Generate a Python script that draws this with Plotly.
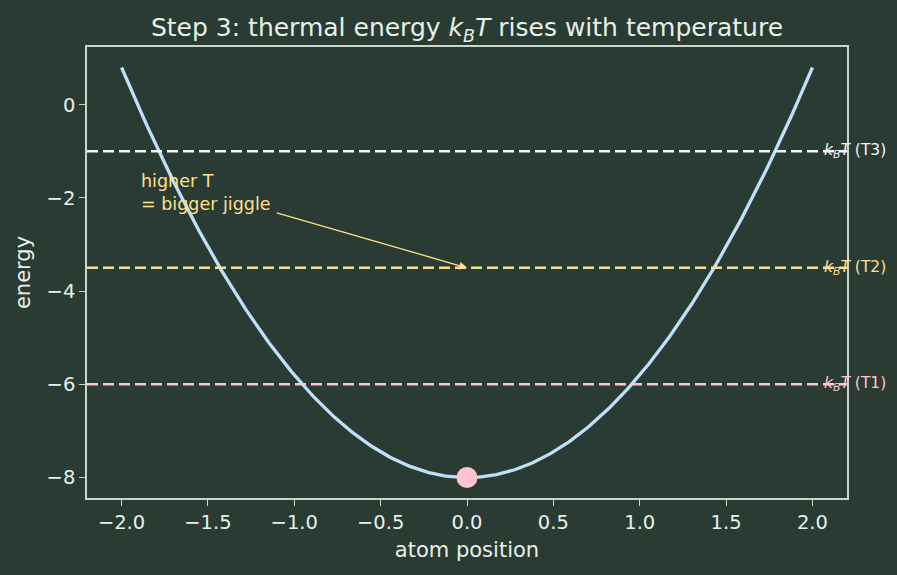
import numpy as np
import plotly.graph_objects as go

# Data
x_pos = np.linspace(-2.0, 2.0, 401)
well_a = 2.2
well_min = -8.0
energy = well_a * x_pos**2 + well_min

levels = [-6.0, -3.5, -1.0]
level_names = ["(T1)", "(T2)", "(T3)"]
level_colors = ["#ffc4d0", "#ffe08a", "#f4f4f4"]

atom_x = [0.0]
atom_y = [-8.0]

note_text = "higher T<br>= bigger jiggle"
note_xy = (-1.9, -1.89)
arrow_tail = (-1.11, -2.31)
arrow_head = (0.0, -3.5)

BG = "#2a3b34"
FG = "#e8efe8"
SPINE = "#c9d6cc"
FONT = "DejaVu Sans"

fig = go.Figure()

fig.add_trace(go.Scatter(x=x_pos, y=energy, mode="lines",
                         line=dict(color="#bfe0fb", width=3.3), showlegend=False,
                         hoverinfo="skip"))

for lv, nm, col in zip(levels, level_names, level_colors):
    fig.add_shape(type="line", xref="paper", x0=0, x1=1, yref="y", y0=lv, y1=lv,
                  line=dict(color=col, width=2.5, dash="11px,5px"), layer="above")
    fig.add_annotation(x=2.055, y=lv, xref="x", yref="y", showarrow=False,
                       xanchor="left", yanchor="middle",
                       text=f"<i>k</i><sub><i>B</i></sub><i>T</i> {nm}",
                       font=dict(family=FONT, size=15.5, color=col))

fig.add_trace(go.Scatter(x=atom_x, y=atom_y, mode="markers",
                         marker=dict(color="#ffc4d0", size=21), showlegend=False,
                         cliponaxis=False))

fig.add_annotation(x=note_xy[0], y=note_xy[1], xref="x", yref="y",
                   text=note_text, align="left", showarrow=False,
                   xanchor="left", yanchor="middle",
                   font=dict(family=FONT, size=17.5, color="#ffe08a"))
fig.add_annotation(x=arrow_head[0], y=arrow_head[1], xref="x", yref="y",
                   ax=arrow_tail[0], ay=arrow_tail[1], axref="x", ayref="y",
                   text="", showarrow=True, arrowhead=2, arrowsize=1.2,
                   arrowwidth=1.3, arrowcolor="#ffe08a")

axis_common = dict(showgrid=False, zeroline=False, showline=True, linecolor=SPINE,
                   linewidth=1.5, mirror=True, ticks="outside", ticklen=6,
                   tickwidth=1.4, tickcolor=SPINE,
                   tickfont=dict(family=FONT, size=19.5, color=FG))

fig.update_layout(
    width=897, height=575,
    paper_bgcolor=BG, plot_bgcolor=BG,
    margin=dict(l=87, r=50, t=47, b=77),
    title=dict(text="Step 3: thermal energy <i>k</i><sub><i>B</i></sub><i>T</i> rises with temperature",
               x=0.5, xref="paper", xanchor="center", y=0.952, yanchor="middle",
               font=dict(family=FONT, size=25, color=FG)),
    xaxis=dict(range=[-2.2, 2.2], tickvals=[-2, -1.5, -1, -0.5, 0, 0.5, 1, 1.5, 2],
               ticktext=["−2.0", "−1.5", "−1.0", "−0.5", "0.0", "0.5", "1.0", "1.5", "2.0"],
               title=dict(text="atom position", standoff=9,
                          font=dict(family=FONT, size=21, color=FG)),
               **axis_common),
    yaxis=dict(range=[-8.44, 1.24], tickvals=[-8, -6, -4, -2, 0],
               ticktext=["−8", "−6", "−4", "−2", "0"],
               title=dict(text="energy", standoff=10,
                          font=dict(family=FONT, size=21, color=FG)),
               **axis_common),
)

fig.write_html("out.html")
